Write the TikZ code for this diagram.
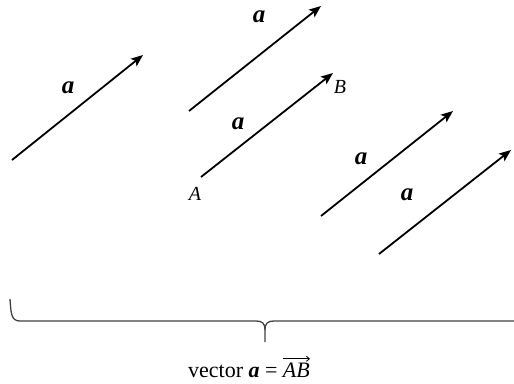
\documentclass[tikz,border=0pt]{standalone}
\usepackage{fontspec}
\setmainfont{Liberation Serif}
\usetikzlibrary{arrows.meta}
\tikzset{
  vec/.style={line width=1.8pt, -{Stealth[length=12pt,width=9.5pt,inset=2.5pt]}},
  vlabel/.style={inner sep=0pt, font=\fontsize{25}{28}\selectfont\bfseries\itshape},
  ptlabel/.style={inner sep=0pt, font=\fontsize{20}{24}\selectfont\itshape},
  brace/.style={line width=1.3pt, draw=black!75},
  caption/.style={inner sep=0pt, font=\fontsize{22}{26}\selectfont},
  overarr/.style={line width=0.8pt, -{Straight Barb[length=3pt,width=5pt]}}
}
\begin{document}
\begin{tikzpicture}[x=1pt,y=-1pt]
\useasboundingbox (0,0) rectangle (514,383);
% arrow endpoints
\coordinate (s1) at (12,160);  \coordinate (e1) at (143,55);
\coordinate (s2) at (189,111); \coordinate (e2) at (321,6);
\coordinate (s3) at (201,177); \coordinate (e3) at (333,73);
\coordinate (s4) at (321,216); \coordinate (e4) at (453,111);
\coordinate (s5) at (379,254); \coordinate (e5) at (511,150);
\draw[vec] (s1) -- (e1);
\draw[vec] (s2) -- (e2);
\draw[vec] (s3) -- (e3);
\draw[vec] (s4) -- (e4);
\draw[vec] (s5) -- (e5);
% labels
\node[vlabel] (l1) at (68,88) {a};
\node[vlabel] (l2) at (259,17) {a};
\node[vlabel] (l3) at (238,124) {a};
\node[vlabel] (l4) at (361,159) {a};
\node[vlabel] (l5) at (407,195) {a};
\node[ptlabel] (A) at (195,194) {A};
\node[ptlabel] (B) at (340,87) {B};
% brace
\coordinate (bl) at (10,299);
\coordinate (bt) at (265,342);
\coordinate (br) at (516,321);
\draw[brace] (bl) .. controls (11,313) and (11,321) .. (20,321) -- (256,321)
  .. controls (262,321) and (265,323) .. (265,330) -- (bt);
\draw[brace] (265,330) .. controls (265,323) and (268,321) .. (274,321) -- (br);
% caption
\node[caption, anchor=base west] (cap) at (188,377) {vector \textbf{\textit{a}} =};
\node[caption, anchor=base west, font=\fontsize{22}{26}\selectfont\itshape] (ab) at ([xshift=5pt]cap.base east) {AB};
\coordinate (ov1) at ([yshift=3.5pt]ab.north west);
\coordinate (ov2) at ([yshift=3.5pt]ab.north east);
\draw[overarr] (ov1) -- (ov2);
\end{tikzpicture}
\end{document}
